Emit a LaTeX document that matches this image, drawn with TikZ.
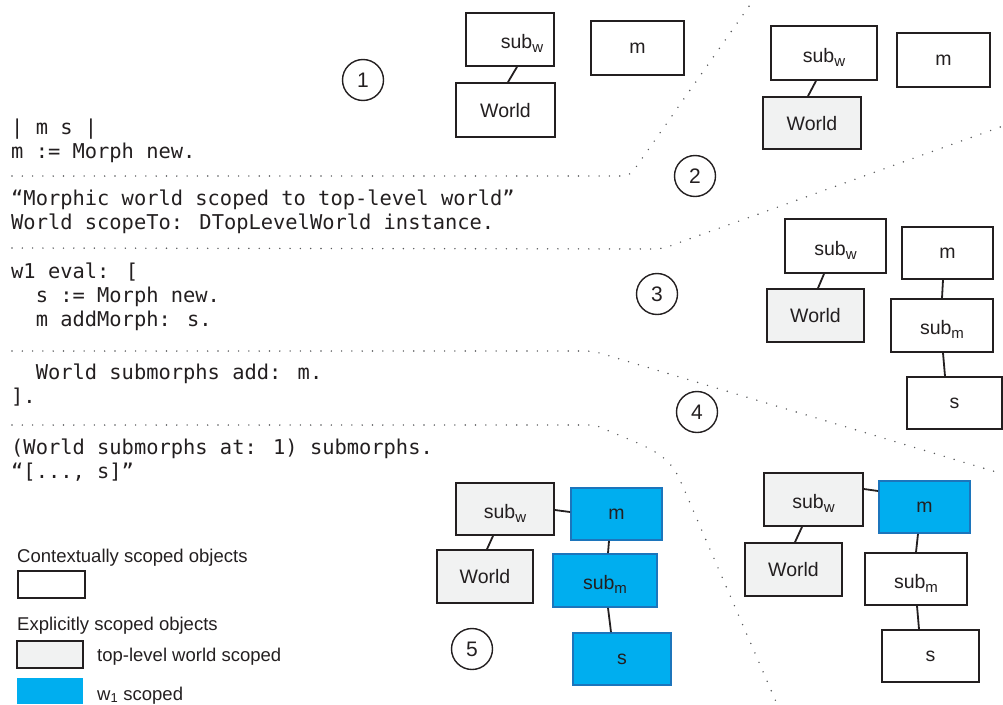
\documentclass[tikz,border=0pt]{standalone}
\usepackage{fontspec}
\setmainfont{Liberation Sans}
\newfontfamily\codefont{DejaVu Sans Mono}
\usetikzlibrary{calc}
\definecolor{inkblack}{HTML}{231F20}
\definecolor{toplfill}{HTML}{F1F2F2}
\definecolor{wonefill}{HTML}{00AEEF}
\definecolor{woneline}{HTML}{1C75BC}
\definecolor{sepgray}{HTML}{58595B}
\newcommand{\subof}[1]{sub\raisebox{-4pt}{\fontsize{15}{15}\selectfont #1}}

\begin{document}
\begin{tikzpicture}[
  x=1pt, y=-1pt,
  font=\fontsize{19.5}{23}\selectfont, text=inkblack,
  obj/.style   = {draw=inkblack, line width=1.8pt, fill=white, inner sep=0pt,
                  minimum width=96pt, minimum height=53pt,
                  text height=14pt, text depth=0pt},
  topl/.style  = {obj, fill=toplfill},
  wone/.style  = {obj, fill=wonefill, draw=woneline},
  subx/.style  = {text height=18pt},
  lowx/.style  = {text height=10pt},
  ln/.style    = {draw=inkblack, line width=1.8pt},
  sep/.style   = {draw=sepgray, line width=1.6pt, line cap=round,
                  dash pattern=on 0pt off 10.3pt},
  code/.style  = {anchor=north west, inner sep=0pt, align=left,
                  font=\codefont\fontsize{20.4}{24}\selectfont},
  stage/.style = {draw=inkblack, circle, line width=1.4pt, minimum size=41pt,
                  inner sep=0pt, font=\fontsize{21}{21}\selectfont},
  key/.style   = {anchor=base west, inner sep=0pt, font=\fontsize{18.5}{22}\selectfont},
  keybox/.style= {draw=inkblack, line width=1.8pt, inner sep=0pt,
                  minimum width=66pt, minimum height=27pt},
]
\useasboundingbox (0,0) rectangle (1003,704);

% --- the separators between the steps ------------------------------------------------------------
\draw[sep] (12,176) -- (622,176) .. controls (630,176) and (632,172) .. (636,167) -- (752,2);
\draw[sep] (12,248) -- (652,249) .. controls (662,249) and (668,247) .. (678,243) -- (1003,126);
\draw[sep] (12,351) -- (585,351) .. controls (592,351) and (596,352) .. (603,354) -- (1003,474);
\draw[sep] (12,425) -- (595,425) .. controls (640,445) and (667,450) .. (680,480) -- (777,704);

% --- the code ------------------------------------------------------------------------------------
\node[code] (code1) at (11,117) {\strut| m s |\\m := Morph new.};
\node[code] (code2) at (11,188) {\strut“Morphic world scoped to top-level world”\\World scopeTo: DTopLevelWorld instance.};
\node[code] (code3) at (11,261.5) {\strut w1 eval: [\\\phantom{xx}s := Morph new.\\\phantom{xx}m addMorph: s.};
\node[code] (code4) at (11,362.5) {\strut\phantom{xx}World submorphs add: m.\\].};
\node[code] (code5) at (11,437.5) {\strut(World submorphs at: 1) submorphs.\\“[..., s]”};

% --- step numbers --------------------------------------------------------------------------------
\node[stage] (stage1) at (363,80)  {1};
\node[stage] (stage2) at (695,176) {2};
\node[stage] (stage3) at (657,294) {3};
\node[stage] (stage4) at (697,412) {4};
\node[stage] (stage5) at (472,649) {5};

% --- step 1 --------------------------------------------------------------------------------------
\node[obj, subx, minimum width=88pt]                      (subw1)  at (510,39.5)  {\hspace*{24pt}\subof{w}};
\node[obj, lowx, minimum width=93pt, minimum height=54pt] (m1)     at (637.5,48)  {m};
\node[obj, minimum width=99pt, minimum height=54pt]       (world1) at (505.5,110) {World};
\draw[ln] ($(subw1.south)+(7,0)$) -- ($(world1.north)+(2.5,0)$);

% --- step 2 --------------------------------------------------------------------------------------
\node[obj, subx, minimum width=106pt, minimum height=54pt] (subw2)  at (824,53)    {\subof{w}};
\node[obj, lowx, minimum width=93pt, minimum height=54pt]  (m2)     at (943.5,60)  {m};
\node[topl, minimum width=98pt, minimum height=52pt]       (world2) at (812,123)   {World};
\draw[ln] ($(subw2.south)+(-8,0)$) -- ($(world2.north)+(-4,0)$);

% --- step 3 --------------------------------------------------------------------------------------
\node[obj, subx, minimum width=101pt, minimum height=54pt] (subw3)  at (835.5,246)   {\subof{w}};
\node[topl, minimum width=97pt]                            (world3) at (815.5,315.5) {World};
\node[obj, lowx, minimum width=91pt, minimum height=52pt]  (m3)     at (947.5,253)   {m};
\node[obj, subx, minimum width=102pt]                      (subm3)  at (942,325.5)   {\subof{m}};
\node[obj, lowx, minimum width=95pt, minimum height=52pt]  (s3)     at (954.5,403)   {s};
\draw[ln] ($(subw3.south)+(-11.5,0)$) -- ($(world3.north)+(2.5,0)$);
\draw[ln] ($(m3.south)+(-4.5,0)$) -- (subm3.north);
\draw[ln] ($(subm3.south)+(1,0)$) -- ($(s3.north)+(-9.5,0)$);

% --- step 4 --------------------------------------------------------------------------------------
\node[topl, subx, minimum width=99pt]                      (subw4)  at (813.5,499.5) {\subof{w}};
\node[topl, minimum width=97pt]                            (world4) at (793.5,569.5) {World};
\node[wone, lowx, minimum width=91pt, minimum height=52pt] (m4)     at (924.5,507)   {m};
\node[obj, subx, minimum width=102pt, minimum height=52pt] (subm4)  at (916,579)     {\subof{m}};
\node[obj, lowx, minimum width=97pt, minimum height=52pt]  (s4)     at (930.5,656)   {s};
\draw[ln] ($(subw4.south)+(-11.5,0)$) -- ($(world4.north)+(1.5,0)$);
\draw[ln] ($(subw4.east)+(0,-10.5)$) -- ($(m4.west)+(0,-16)$);
\draw[ln] ($(m4.south)+(-6.5,0)$) -- (subm4.north);
\draw[ln] ($(subm4.south)+(1,0)$) -- ($(s4.north)+(-11.5,0)$);

% --- step 5 --------------------------------------------------------------------------------------
\node[topl, subx, minimum width=98pt, minimum height=52pt] (subw5)  at (505,509)   {\subof{w}};
\node[topl, minimum width=96pt]                            (world5) at (485,576.5) {World};
\node[wone, lowx, minimum width=91pt, minimum height=52pt] (m5)     at (616.5,514) {m};
\node[wone, subx, minimum width=104pt]                     (subm5)  at (605,580.5) {\subof{m}};
\node[wone, lowx, minimum width=98pt, minimum height=52pt] (s5)     at (622,659)   {s};
\draw[ln] ($(subw5.south)+(-12,0)$) -- ($(world5.north)+(2,0)$);
\draw[ln] ($(subw5.east)+(0,1)$) -- ($(m5.west)+(0,-2)$);
\draw[ln] ($(m5.south)+(-7.5,0)$) -- ($(subm5.north)+(3,0)$);
\draw[ln] ($(subm5.south)+(3,0)$) -- ($(s5.north)+(-11,0)$);

% --- legend --------------------------------------------------------------------------------------
\node[key] (keyctxt) at (17,562) {Contextually scoped objects};
\node[keybox, fill=white, minimum width=67pt] (keyctx) at (51.5,584.5) {};
\node[key] (keyexpl) at (17,630) {Explicitly scoped objects};
\node[keybox, fill=toplfill] (keytop) at (50,654.5) {};
\node[key] (keytopt) at (97,661) {top-level world scoped};
\node[keybox, fill=wonefill, draw=none, minimum height=26pt] (keywone) at (50,691) {};
\node[key] (keywonet) at (97,700) {w\textsubscript{1} scoped};

\end{tikzpicture}
\end{document}
